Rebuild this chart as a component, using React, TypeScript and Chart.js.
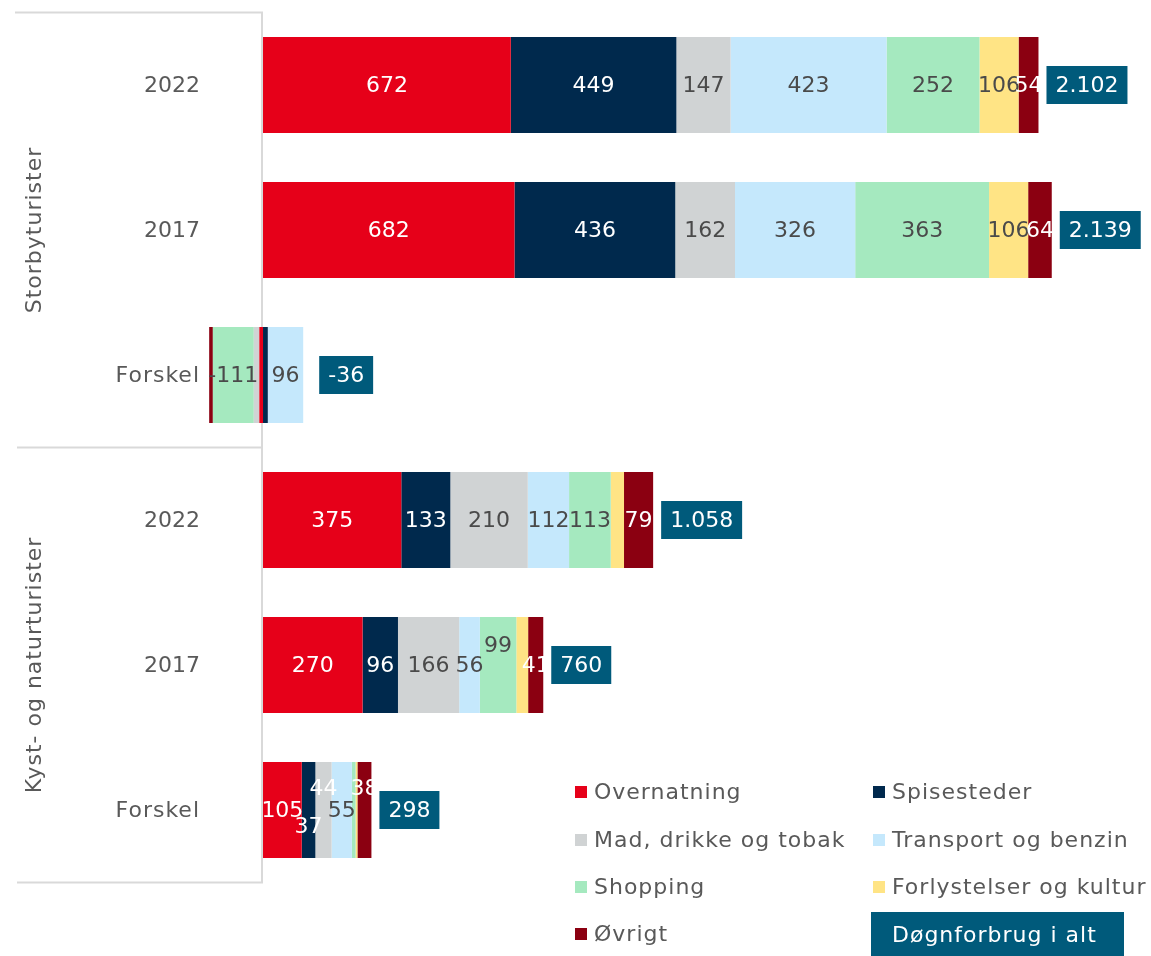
import React, { useEffect, useRef } from 'react';
import { Chart, registerables } from 'chart.js';

Chart.register(...registerables);

// ---------- data ----------
const rowLabels = ['2022', '2017', 'Forskel', '2022', '2017', 'Forskel'];
const groupLabels = ['Storbyturister', 'Kyst- og naturturister'];
const seriesNames = [
  'Overnatning',
  'Spisesteder',
  'Mad, drikke og tobak',
  'Transport og benzin',
  'Shopping',
  'Forlystelser og kultur',
  'Øvrigt',
];
const overnatning = [672, 682, -10, 375, 270, 105];
const spisesteder = [449, 436, 13, 133, 96, 37];
const madDrikkeTobak = [147, 162, -15, 210, 166, 44];
const transportBenzin = [423, 326, 96, 112, 56, 55];
const shopping = [252, 363, -111, 113, 99, 10];
const forlystelserKultur = [106, 106, 0, 36, 32, 5];
const oevrigt = [54, 64, -10, 79, 41, 38];
const totals = [2102, 2139, -36, 1058, 760, 298];
const totalLegendLabel = 'Døgnforbrug i alt';

// ---------- styles ----------
const FONT = '"DejaVu Sans", sans-serif';
const colors = ['#E60019', '#00294D', '#D0D3D4', '#C5E8FC', '#A5E9BF', '#FFE485', '#8B0011'];
const labelColors = ['#ffffff', '#ffffff', '#4a4a4a', '#4a4a4a', '#4a4a4a', '#4a4a4a', '#ffffff'];
const TOTAL_BG = '#005A7B';
const AXIS_COLOR = '#D9D9D9';
const TEXT_COLOR = '#595959';
const MIN_LABEL = 37;
const WORD_SPACING = '1px';
const totalGaps = [8, 8, 16, 8, 8, 8];
// label tweaks [row, dataset, dy, color|null]
const labelTweaks: [number, number, number, string | null][] = [
  [4, 4, -20, null],
  [5, 1, 16, null],
  [5, 2, -22, '#ffffff'],
  [5, 6, -22, '#ffffff'],
];

const allSeries = [overnatning, spisesteder, madDrikkeTobak, transportBenzin, shopping, forlystelserKultur, oevrigt];

const fmt = (v: number) => {
  const s = Math.abs(v).toString().replace(/\B(?=(\d{3})+(?!\d))/g, '.');
  return (v < 0 ? '-' : '') + s;
};

const setSpacing = (ctx: any, sp: string) => {
  if ('letterSpacing' in ctx) ctx.letterSpacing = sp;
};

const customPlugin = {
  id: 'customDraw',
  beforeDatasetsDraw(chart: any) {
    const ctx = chart.ctx;
    const xs = chart.scales.x;
    const ys = chart.scales.y;
    const area = chart.chartArea;
    const x0 = Math.round(xs.getPixelForValue(0)) - 1;
    ctx.save();
    ctx.strokeStyle = AXIS_COLOR;
    ctx.lineWidth = 2;
    ctx.beginPath();
    ctx.moveTo(x0, area.top);
    ctx.lineTo(x0, area.bottom);
    const mid = (ys.getPixelForValue(2) + ys.getPixelForValue(3)) / 2;
    ctx.moveTo(15, area.top);
    ctx.lineTo(x0 + 1, area.top);
    ctx.moveTo(17, mid);
    ctx.lineTo(x0 + 1, mid);
    ctx.moveTo(17, area.bottom);
    ctx.lineTo(x0 + 1, area.bottom);
    ctx.stroke();

    ctx.fillStyle = TEXT_COLOR;
    ctx.font = `22px ${FONT}`;
    ctx.textBaseline = 'middle';

    // category labels
    ctx.textAlign = 'right';
    rowLabels.forEach((t, i) => {
      setSpacing(ctx, /\d/.test(t) ? '0px' : WORD_SPACING);
      ctx.fillText(t, 200, ys.getPixelForValue(i) + 1);
    });

    // group labels (rotated)
    setSpacing(ctx, WORD_SPACING);
    ctx.textAlign = 'center';
    const g1 = ys.getPixelForValue(1);
    const g2 = ys.getPixelForValue(4);
    [[groupLabels[0], g1], [groupLabels[1], g2]].forEach(([t, yy]: any) => {
      ctx.save();
      ctx.translate(35, yy);
      ctx.rotate(-Math.PI / 2);
      ctx.fillText(t, 0, 0);
      ctx.restore();
    });
    setSpacing(ctx, '0px');
    ctx.restore();
  },
  afterDatasetsDraw(chart: any) {
    const ctx = chart.ctx;
    const xs = chart.scales.x;
    ctx.save();
    setSpacing(ctx, '0px');
    ctx.font = `22px ${FONT}`;
    ctx.textBaseline = 'middle';
    ctx.textAlign = 'center';
    chart.data.datasets.forEach((ds: any, di: number) => {
      const meta = chart.getDatasetMeta(di);
      meta.data.forEach((bar: any, ri: number) => {
        const v = ds.data[ri];
        if (Math.abs(v) < MIN_LABEL) return;
        const p = bar.getProps(['x', 'y', 'base'], true);
        let dy = 0;
        let col = labelColors[di];
        labelTweaks.forEach(([r, d, o, c]) => {
          if (r === ri && d === di) {
            dy = o;
            if (c) col = c;
          }
        });
        ctx.fillStyle = col;
        ctx.fillText(fmt(v), (p.x + p.base) / 2, p.y + dy + 1);
      });
    });

    // total boxes
    for (let ri = 0; ri < rowLabels.length; ri++) {
      let pos = 0;
      allSeries.forEach((s) => {
        if (s[ri] > 0) pos += s[ri];
      });
      const endX = xs.getPixelForValue(pos);
      const yc = chart.getDatasetMeta(0).data[ri].y;
      const txt = fmt(totals[ri]);
      ctx.textAlign = 'left';
      const w = ctx.measureText(txt).width + 18;
      const bx = endX + totalGaps[ri];
      ctx.fillStyle = TOTAL_BG;
      ctx.fillRect(bx, yc - 19, w, 38);
      ctx.fillStyle = '#ffffff';
      ctx.fillText(txt, bx + 9, yc + 1);
    }

    // legend
    ctx.textAlign = 'left';
    setSpacing(ctx, WORD_SPACING);
    const colX = [575, 873];
    const rowY = [792, 840, 887, 934];
    seriesNames.forEach((name, i) => {
      const cx = colX[i % 2];
      const cy = rowY[Math.floor(i / 2)];
      ctx.fillStyle = colors[i];
      ctx.fillRect(cx, cy - 6, 12, 12);
      ctx.fillStyle = TEXT_COLOR;
      ctx.fillText(name, cx + 19, cy + 1);
    });
    ctx.fillStyle = TOTAL_BG;
    ctx.fillRect(871, 912, 253, 44);
    ctx.fillStyle = '#ffffff';
    ctx.fillText(totalLegendLabel, 892, 936);
    setSpacing(ctx, '0px');
    ctx.restore();
  },
};

export default function App() {
  const ref = useRef<HTMLCanvasElement>(null);
  useEffect(() => {
    if (!ref.current) return;
    const chart = new Chart(ref.current, {
      type: 'bar',
      data: {
        labels: rowLabels,
        datasets: seriesNames.map((name, i) => ({
          label: name,
          data: allSeries[i],
          backgroundColor: colors[i],
          borderWidth: 0,
          categoryPercentage: 1,
          barPercentage: 0.662,
        })),
      },
      options: {
        indexAxis: 'y',
        responsive: false,
        animation: false,
        layout: { padding: { top: 12.5, bottom: 73.5, left: 0, right: 3 } },
        plugins: {
          legend: { display: false },
          tooltip: { enabled: false },
          title: { display: false },
        },
        scales: {
          x: {
            stacked: true,
            display: false,
            min: -150,
            max: 2400,
          },
          y: {
            stacked: true,
            grid: { display: false, drawTicks: false },
            border: { display: false },
            ticks: { display: false },
            afterFit: (scale: any) => {
              scale.width = 207.7;
              scale.paddingTop = 0;
              scale.paddingBottom = 0;
            },
          },
        },
      },
      plugins: [customPlugin],
    });
    return () => chart.destroy();
  }, []);
  return (
    <div style={{ position: 'fixed', left: 0, top: 0, width: 1151, height: 956, background: '#fff' }}>
      <canvas ref={ref} width={1151} height={956} />
    </div>
  );
}
